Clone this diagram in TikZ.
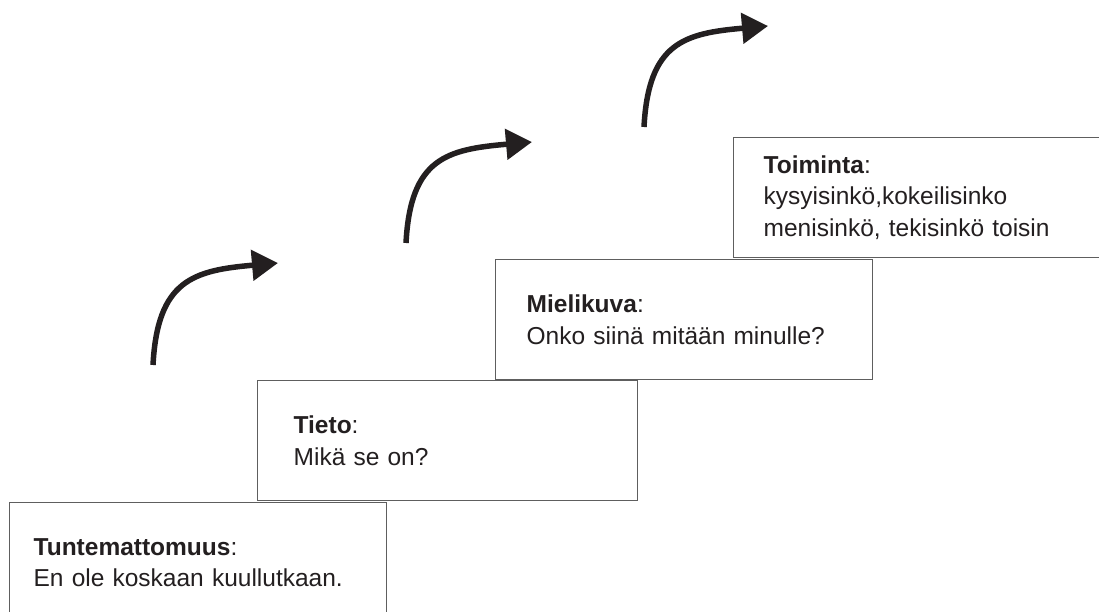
\documentclass[tikz,border=0pt]{standalone}
\usepackage{fontspec}
\setmainfont{Liberation Sans}
\usepackage{xcolor}
\usepackage{tikz}
\usetikzlibrary{arrows.meta,positioning}
\definecolor{ink}{HTML}{231F20}
\definecolor{edge}{HTML}{5E5E5E}
\tikzset{
  porras/.style={draw=edge,line width=1.3pt,fill=white,anchor=north west,minimum height=120pt,inner ysep=0pt,align=left,text=ink,font=\fontsize{24.5}{31.5}\selectfont},
  nousu/.style={-{Triangle[length=26pt,width=30pt]},line width=5.5pt,draw=ink,line cap=butt}
}
\begin{document}
\begin{tikzpicture}[x=1pt,y=1pt]
\path[use as bounding box,fill=white] (0,0) rectangle (1099,612);

\node[porras,inner xsep=24pt,text width=329pt] (tuntemattomuus) at (9,110) {\textbf{Tuntemattomuus}:\\En ole koskaan kuullutkaan.};
\node[porras,inner xsep=36pt,text width=308pt] (tieto) at (257,232) {\textbf{Tieto}:\\Mikä se on?};
\node[porras,inner xsep=31pt,text width=315pt] (mielikuva) at (495,353) {\textbf{Mielikuva}:\\Onko siinä mitään minulle?};
\node[porras,inner xsep=30pt,text width=317pt] (toiminta) at (733,475) {\textbf{Toiminta}:\\kysyisinkö,kokeilisinko\\menisinkö, tekisinkö toisin};

\coordinate (nousu1a) at (153,247);
\coordinate (nousu1b) at (278,349);
\coordinate (nousu2a) at (406,369);
\coordinate (nousu2b) at (532,470);
\coordinate (nousu3a) at (644,485);
\coordinate (nousu3b) at (768,586);
\draw[nousu] (nousu1a) to[out=87,in=185,looseness=1.35] (nousu1b);
\draw[nousu] (nousu2a) to[out=87,in=185,looseness=1.35] (nousu2b);
\draw[nousu] (nousu3a) to[out=87,in=185,looseness=1.35] (nousu3b);
\end{tikzpicture}
\end{document}
